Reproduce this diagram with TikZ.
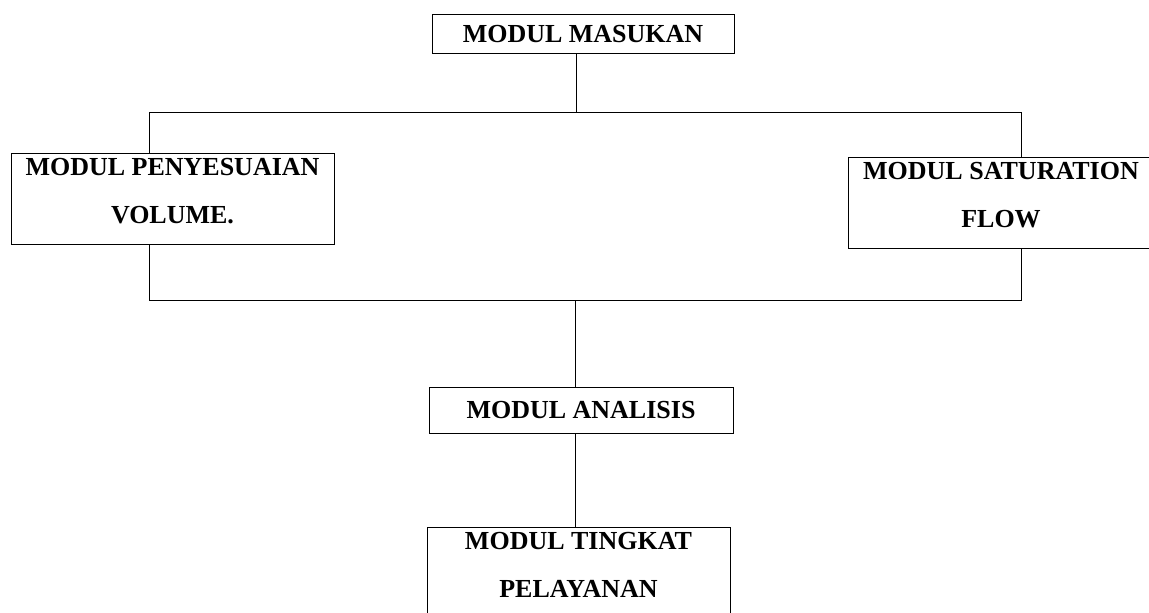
\documentclass[tikz,border=0pt]{standalone}
\usepackage{fontspec}
\setmainfont{Liberation Serif}
\usepackage{tikz}

\begin{document}
\begin{tikzpicture}[x=1pt,y=-1pt,line width=0.8pt]
        \tikzstyle{modul} = [draw, font=\bfseries\fontsize{26}{48}\selectfont, inner xsep=0pt];
        \tikzstyle{satu} = [modul, text height=17pt, text depth=0pt];
        \tikzstyle{dua} = [modul, align=center, anchor=north, inner ysep=5pt, text depth=16pt];
        \useasboundingbox (0,0) rectangle (1149,613);
        \clip (0,0) rectangle (1149,613);

        \node [satu, minimum width=302pt, minimum height=39pt] (masukan) at (583,33.5) {MODUL MASUKAN};
        \node [dua, minimum width=323pt] (volume) at (172.5,153) {MODUL PENYESUAIAN\\VOLUME.};
        \node [dua, minimum width=306pt] (satflow) at (1001,157) {MODUL SATURATION\\FLOW};
        \node [satu, minimum width=304pt, minimum height=46pt] (analisis) at (581,410) {MODUL ANALISIS};
        \node [dua, minimum width=303pt] (tingkat) at (578.5,527) {MODUL TINGKAT\\PELAYANAN};

        \coordinate (pecah) at (576,112);
        \coordinate (kiri) at (149,112);
        \coordinate (kanan) at (1021,112);
        \coordinate (kiribawah) at (149,300);
        \coordinate (kananbawah) at (1021,300);
        \coordinate (gabung) at (575,300);

        \draw (masukan.south -| pecah) -- (pecah);
        \draw (kiri |- volume.north) -- (kiri) -- (kanan) -- (kanan |- satflow.north);
        \draw (kiri |- volume.south) -- (kiribawah) -- (kananbawah) -- (kanan |- satflow.south);
        \draw (gabung) -- (gabung |- analisis.north);
        \draw (analisis.south -| gabung) -- (gabung |- tingkat.north);
    \end{tikzpicture}
\end{document}
